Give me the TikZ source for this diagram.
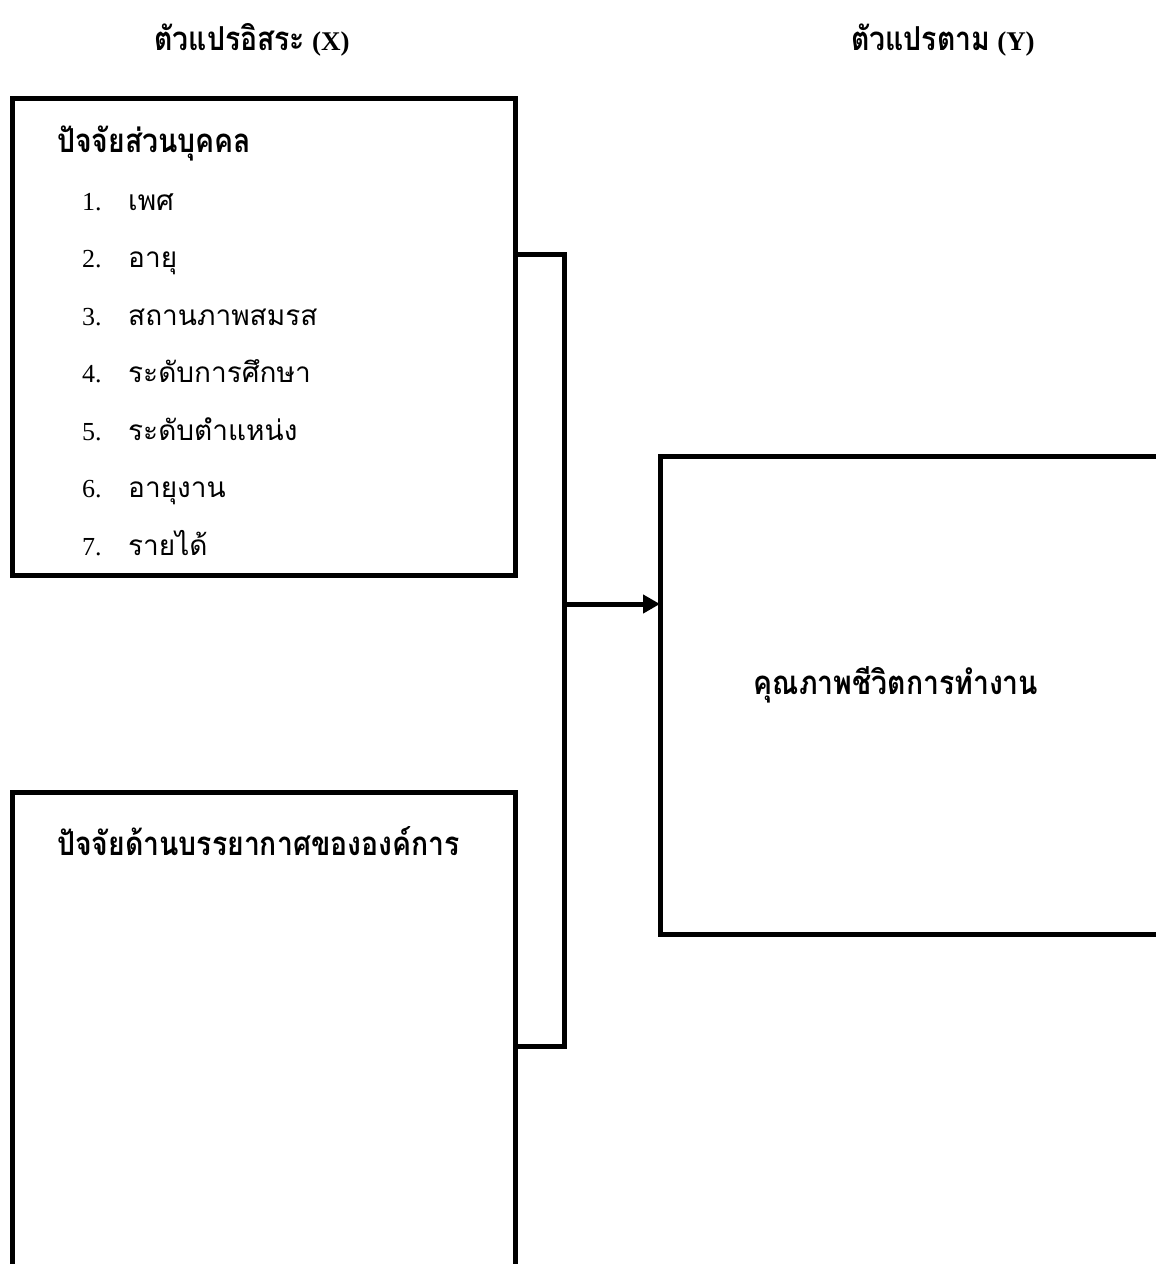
\documentclass[tikz,border=0pt]{standalone}
\usepackage{fontspec}
\setmainfont{Liberation Serif}
\newfontfamily\thaifont[Script=Thai]{Loma}
\newfontfamily\thaibold[Script=Thai, FakeStretch=0.86]{Loma}
\usetikzlibrary{arrows.meta}
\tikzset{
	box/.style={draw, line width=5pt, outer sep=0pt, inner sep=0pt, anchor=north west},
	link/.style={line width=5pt},
	headtext/.style={inner sep=0pt, anchor=base west, font=\thaibold\bfseries\fontsize{33}{36}\selectfont},
	itemtext/.style={inner sep=0pt, anchor=base west, font=\thaifont\fontsize{28}{30}\selectfont},
	numtext/.style={inner sep=0pt, anchor=base west, font=\fontsize{26}{28}\selectfont},
}
\begin{document}
\begin{tikzpicture}[x=1pt, y=-1pt]
		\useasboundingbox (0, 0) rectangle (1156, 1264);
		% titles
		\node[inner sep=0pt, anchor=base] (titlex) at (252, 50) {{\thaibold\bfseries\fontsize{33}{36}\selectfont ตัวแปรอิสระ}\hspace{7pt}{\bfseries\fontsize{27}{30}\selectfont (X)}};
		\node[inner sep=0pt, anchor=base] (titley) at (943, 50) {{\thaibold\bfseries\fontsize{33}{36}\selectfont ตัวแปรตาม}\hspace{7pt}{\bfseries\fontsize{27}{30}\selectfont (Y)}};
		% boxes
		\node[box, minimum width=503, minimum height=477] (personal) at (12, 98) {};
		\node[box, minimum width=503, minimum height=520] (climate) at (12, 792) {};
		\node[box, minimum width=540, minimum height=478] (quality) at (660, 456) {};
		% texts
		\node[headtext] (personalhead) at (57, 152) {ปัจจัยส่วนบุคคล};
		\foreach \txt [count=\i] in {เพศ, อายุ, สถานภาพสมรส, ระดับการศึกษา, ระดับตำแหน่ง, อายุงาน, รายได้}{
			\node[numtext] (num\i) at (82, 152.5+57.5*\i) {\i.};
			\node[itemtext] (item\i) at (128, 152.5+57.5*\i) {\txt};
		}
		\node[headtext] (climatehead) at (57, 855) {ปัจจัยด้านบรรยากาศขององค์การ};
		\node[headtext, anchor=base] (qualityhead) at (896, 694) {คุณภาพชีวิตการทำงาน};
		% bracket
		\coordinate (brtop) at (564, 254);
		\coordinate (brbot) at (564, 1046);
		\coordinate (brmid) at (564, 604);
		\draw[link] (personal.east |- brtop) -- (brtop) -- (brbot) -- (climate.east |- brbot);
		\draw[link, -{Triangle[length=17pt, width=18pt]}] (brmid) -- (quality.west |- brmid);
\end{tikzpicture}
\end{document}
